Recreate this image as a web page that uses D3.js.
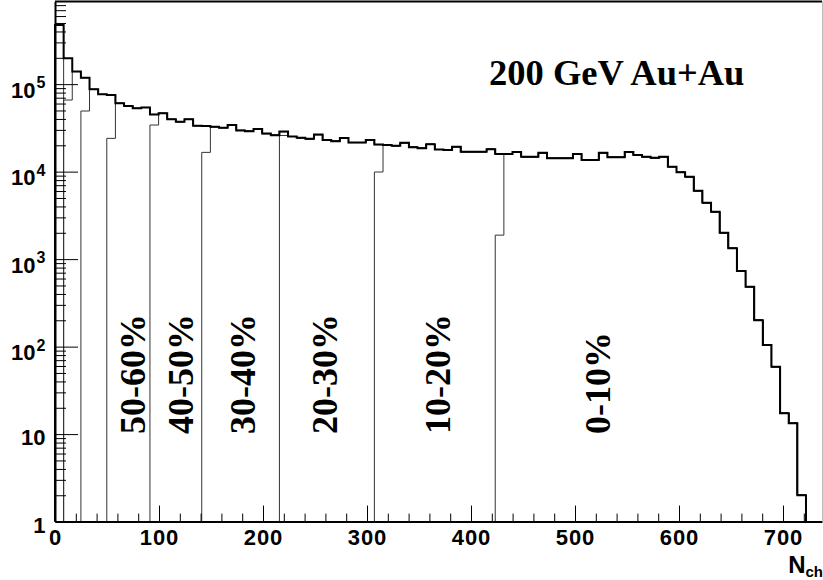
<!DOCTYPE html>
<html><head><meta charset="utf-8">
<script src="https://cdn.jsdelivr.net/npm/d3@7"></script>
<style>body{margin:0;background:#fff}svg{display:block}</style>
</head><body>
<script>
// ---------------- data ----------------
const binWidth = 8.3;            // N_ch units per bin
const nchCounts = [
  4.73e5, 1.97e5, 1.39e5, 1.18e5, 8.73e4, 7.64e4, 7.50e4, 6.04e4, 5.62e4, 5.29e4,
  5.41e4, 4.50e4, 4.64e4, 3.96e4, 3.72e4, 3.96e4, 3.35e4, 3.32e4, 3.26e4, 3.18e4,
  3.41e4, 2.96e4, 2.90e4, 3.08e4, 2.72e4, 2.61e4, 2.87e4, 2.52e4, 2.44e4, 2.37e4,
  2.65e4, 2.30e4, 2.23e4, 2.43e4, 2.15e4, 2.15e4, 2.30e4, 2.04e4, 2.01e4, 1.98e4,
  2.14e4, 1.90e4, 1.85e4, 2.05e4, 1.79e4, 1.77e4, 1.93e4, 1.69e4, 1.69e4, 1.69e4,
  1.80e4, 1.59e4, 1.59e4, 1.68e4, 1.48e4, 1.48e4, 1.64e4, 1.42e4, 1.42e4, 1.42e4,
  1.59e4, 1.36e4, 1.36e4, 1.64e4, 1.46e4, 1.46e4, 1.68e4, 1.55e4, 1.48e4, 1.44e4,
  1.48e4, 1.14e4, 9.82e3, 8.74e3, 6.05e3, 4.41e3, 3.48e3, 2.00e3, 1.33e3, 731,
  484, 200, 104, 58.9, 17.3, 13.3, 2.0
];
const boundaryN = [8.3, 24.9, 49.8, 91.3, 141.1, 215.8, 307.1, 423.3];
const boundaryFirstBin = [6.58e4, 4.93e4, 2.40e4, 3.41e4, 1.66e4, 2.59e4, 9.9e3, 1.88e3];
const centralityLabels = ["50-60%", "40-50%", "30-40%", "20-30%", "10-20%", "0-10%"];
const xTickValues = [0, 100, 200, 300, 400, 500, 600, 700];
const yTickValues = [1, 10, 100, 1000, 10000, 100000];
const titleText = "200 GeV Au+Au";

// ---------------- layout ----------------
const W = 823, H = 580;
const layout = {
  left: 55, right: 822, top: 1.5, bottom: 521.6,
  xMax: 737.5, yMax: 8.8e5,
  labelBaselineX: [145, 193, 255, 337, 450, 610],
  labelStartY: 434
};

const svg = d3.select("body").append("svg").attr("width", W).attr("height", H)
  .style("font-family", "'Liberation Sans', Arial, sans-serif");

const x = d3.scaleLinear().domain([0, layout.xMax]).range([layout.left, layout.right]);
const y = d3.scaleLog().domain([1, layout.yMax]).range([layout.bottom, layout.top]);

const nBins = nchCounts.length;
const edge = i => x(i * binWidth);

function stepPath(startBin, firstVal, endBin) {
  const p = d3.path();
  p.moveTo(edge(startBin), y(1));
  for (let i = startBin; i <= endBin; i++) {
    const v = (i === startBin && firstVal != null) ? firstVal : nchCounts[i];
    p.lineTo(edge(i), y(v));
    p.lineTo(edge(i + 1), y(v));
  }
  p.lineTo(edge(endBin + 1), y(1));
  return p.toString();
}

const plot = svg.append("g");
// thin centrality-class histograms
plot.append("path").attr("d", stepPath(0, null, 0))
  .attr("fill", "none").attr("stroke", "#333").attr("stroke-width", 1);
boundaryN.forEach((n, k) => {
  const s = Math.round(n / binWidth);
  plot.append("path").attr("d", stepPath(s, boundaryFirstBin[k], nBins - 1))
    .attr("fill", "none").attr("stroke", "#333").attr("stroke-width", 1);
});
// thick total histogram
plot.append("path").attr("d", stepPath(0, null, nBins - 1))
  .attr("fill", "none").attr("stroke", "#000").attr("stroke-width", 2)
  .attr("stroke-linejoin", "miter");

// ---------------- axes ----------------
const minorX = d3.range(0, layout.xMax, 20).filter(v => v % 100 !== 0);
const gx = svg.append("g").attr("transform", `translate(0,${layout.bottom})`);
gx.call(d3.axisBottom(x).tickValues(minorX).tickSize(-8).tickSizeOuter(0).tickFormat(""));
gx.call(g => g.select(".domain").remove());
const gx2 = svg.append("g").attr("transform", `translate(0,${layout.bottom})`);
gx2.call(d3.axisBottom(x).tickValues(xTickValues).tickSize(-16).tickSizeOuter(0).tickPadding(8)
  .tickFormat(d3.format("d")));
gx2.select(".domain").attr("stroke", "#000").attr("stroke-width", 2);
gx2.selectAll("text").attr("font-size", 22).attr("font-weight", "bold").attr("fill", "#000")
  .style("letter-spacing", "1px");

const minorY = [];
for (let e = 0; e < 6; e++) for (let m = 2; m <= 9; m++) {
  const v = m * Math.pow(10, e); if (v < layout.yMax) minorY.push(v);
}
const gy = svg.append("g").attr("transform", `translate(${layout.left},0)`);
gy.call(d3.axisLeft(y).tickValues(minorY).tickSize(-11).tickSizeOuter(0).tickFormat(""));
gy.call(g => g.select(".domain").remove());
const gy2 = svg.append("g").attr("transform", `translate(${layout.left},0)`);
gy2.call(d3.axisLeft(y).tickValues(yTickValues).tickSize(-23).tickSizeOuter(0).tickFormat(""));
gy2.select(".domain").attr("stroke", "#000").attr("stroke-width", 2);

// y labels with superscripts
yTickValues.forEach(v => {
  const e = Math.round(Math.log10(v));
  const t = svg.append("text").attr("x", 45.5).attr("text-anchor", "end")
    .attr("font-weight", "bold").attr("fill", "#000");
  if (e <= 1) {
    t.attr("y", y(v) + 11).attr("font-size", 22).text(String(v));
  } else {
    t.attr("y", y(v) + 13.5);
    t.append("tspan").attr("font-size", 22).text("10");
    t.append("tspan").attr("font-size", 16).attr("dx", 1).attr("dy", -9.5).text(String(e));
  }
});

// frame top/right
svg.append("line").attr("x1", layout.left).attr("x2", layout.right)
  .attr("y1", layout.top).attr("y2", layout.top).attr("stroke", "#000").attr("stroke-width", 2);
svg.append("line").attr("x1", layout.right + 0.5).attr("x2", layout.right + 0.5)
  .attr("y1", layout.top).attr("y2", layout.bottom).attr("stroke", "#bbb").attr("stroke-width", 1);

// axis title N_ch
const xt = svg.append("text").attr("x", 823).attr("y", 573).attr("text-anchor", "end")
  .attr("font-weight", "bold").attr("fill", "#000");
xt.append("tspan").attr("font-size", 24).text("N");
xt.append("tspan").attr("font-size", 15).attr("dy", 4).text("ch");

// title
svg.append("text").attr("x", 489).attr("y", 85)
  .attr("font-family", "'Liberation Serif', 'Times New Roman', serif")
  .attr("font-weight", "bold").attr("font-size", 36.5).attr("fill", "#000").text(titleText);

// centrality labels (rotated)
centralityLabels.forEach((s, i) => {
  svg.append("text")
    .attr("transform", `translate(${layout.labelBaselineX[i]},${layout.labelStartY}) rotate(-90)`)
    .attr("font-family", "'Liberation Serif', 'Times New Roman', serif")
    .attr("font-weight", "bold").attr("font-size", 36).attr("fill", "#000").text(s);
});
</script>
</body></html>
